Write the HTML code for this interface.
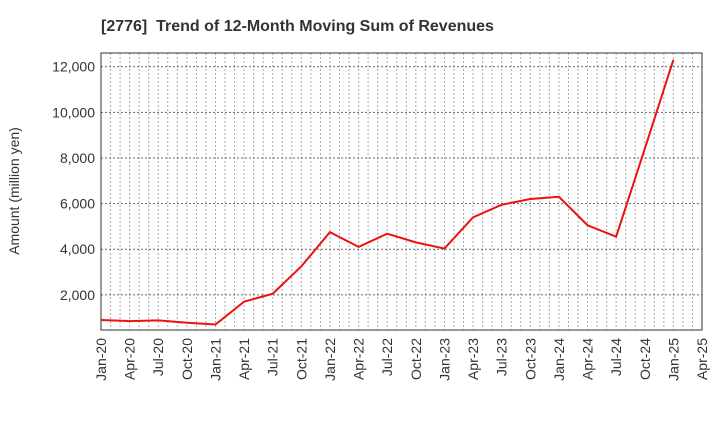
<!DOCTYPE html>
<html><head><meta charset="utf-8"><style>
body{margin:0;background:#fff;}
svg{display:block;font-family:"Liberation Sans",sans-serif;}
</style></head><body>
<svg id="chart" width="720" height="440">
<text x="101" y="31" text-anchor="start" font-size="16" font-weight="bold" fill="#333" xml:space="preserve">[2776]  Trend of 12-Month Moving Sum of Revenues</text>
<text transform="translate(19,191) rotate(-90)" text-anchor="middle" font-size="14" fill="#333">Amount (million yen)</text>
<g id="grid"></g><g id="axes"></g><g id="series"></g>
</svg>
<script>
const categories=["Jan-20","Apr-20","Jul-20","Oct-20","Jan-21","Apr-21","Jul-21","Oct-21","Jan-22","Apr-22","Jul-22","Oct-22","Jan-23","Apr-23","Jul-23","Oct-23","Jan-24","Apr-24","Jul-24","Oct-24","Jan-25","Apr-25"];
const revenues=[900,850,880,780,700,1700,2050,3250,4750,4100,4680,4300,4030,5400,5950,6200,6300,5050,4550,8400,12300];
const yTicks=[2000,4000,6000,8000,10000,12000];
const yTickLabels=["2,000","4,000","6,000","8,000","10,000","12,000"];
const L=101,R=702,T=53,B=330,yMin=460,yMax=12600;
const ns="http://www.w3.org/2000/svg";
const xS=i=>L+(R-L)*i/(categories.length-1);
const yS=v=>B-(v-yMin)/(yMax-yMin)*(B-T);
function mk(tag,attrs,parent){const e=document.createElementNS(ns,tag);for(const k in attrs)e.setAttribute(k,attrs[k]);document.getElementById(parent).appendChild(e);return e;}
const nMonths=(categories.length-1)*3;
for(let m=1;m<nMonths;m++){const x=L+(R-L)*m/nMonths;
const g=mk("line",{x1:x,x2:x,y1:T,y2:B,stroke:"#aaa","stroke-width":1,"stroke-dasharray":"2,2"},"grid");

}
yTicks.forEach((v,i)=>{const y=yS(v);
const g=mk("line",{x1:L,x2:R,y1:y,y2:y,stroke:"#666","stroke-width":1,"stroke-dasharray":"2,2"},"grid");


const t=mk("text",{x:L-6,y:y+5,"text-anchor":"end","font-size":"14",fill:"#333"},"axes");t.textContent=yTickLabels[i];

});
const frame=mk("rect",{x:L,y:T,width:R-L,height:B-T,fill:"none",stroke:"#333","stroke-width":1},"axes");


categories.forEach((c,i)=>{const x=xS(i);
const t=mk("text",{transform:`translate(${x+5},${B+8}) rotate(-90)`,"text-anchor":"end","font-size":"14",fill:"#333"},"axes");t.textContent=c;

});
const line=mk("polyline",{points:revenues.map((v,i)=>xS(i)+","+yS(v)).join(" "),fill:"none",stroke:"#ee1111","stroke-width":2},"series");


</script>
</body></html>
